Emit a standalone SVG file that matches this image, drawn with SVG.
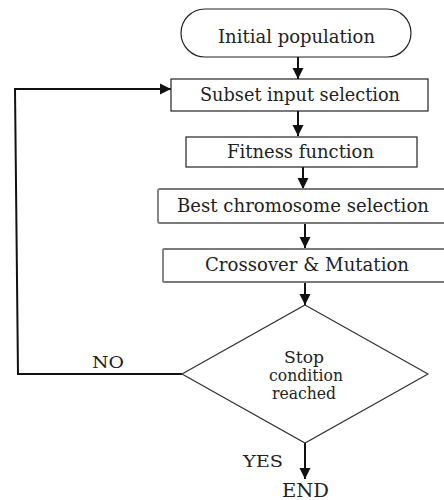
<svg xmlns="http://www.w3.org/2000/svg" width="444" height="500" viewBox="0 0 444 500" font-family="DejaVu Serif">
<style>
.dk{fill:#fff;stroke:#222;stroke-width:1.2}
.gr{fill:#fff;stroke:#7a7a7a;stroke-width:1.8}
.ln{fill:none;stroke:#111;stroke-width:2}
.t{font-family:'DejaVu Serif','Liberation Serif',serif;font-size:18px;fill:#222}
.s{font-size:16px}
</style>
<defs>
<marker id="ah" markerUnits="userSpaceOnUse" markerWidth="12" markerHeight="12" viewBox="0 0 12 12" refX="11" refY="6" orient="auto">
<path d="M0,0.5 L11,6 L0,11.5 z" fill="#111"/>
</marker>
</defs>
<rect width="444" height="500" fill="#fff"/>
<g id="connectors">
<line class="ln" x1="298" y1="57" x2="298" y2="79" marker-end="url(#ah)"/>
<line class="ln" x1="298" y1="111" x2="298" y2="136" marker-end="url(#ah)"/>
<line class="ln" x1="303" y1="167" x2="303" y2="189" marker-end="url(#ah)"/>
<line class="ln" x1="305" y1="223" x2="305" y2="248" marker-end="url(#ah)"/>
<line class="ln" x1="305" y1="282" x2="305" y2="305" marker-end="url(#ah)"/>
<line class="ln" x1="305" y1="443" x2="305" y2="479" marker-end="url(#ah)"/>
<polyline class="ln" points="182,374 18,374 15,89 171,89" marker-end="url(#ah)"/>
<text class="t s" x="92" y="368" textLength="32" lengthAdjust="spacingAndGlyphs">NO</text>
<text class="t s" x="243" y="467" textLength="40" lengthAdjust="spacingAndGlyphs">YES</text>
</g>
<g id="start">
<rect class="dk" x="181" y="9" width="230" height="48" rx="24" ry="24"/>
<text class="t" x="218" y="43" textLength="157" lengthAdjust="spacingAndGlyphs">Initial population</text>
</g>
<g id="subset">
<rect class="dk" x="171" y="79" width="257" height="32"/>
<text class="t" x="200" y="101" textLength="200" lengthAdjust="spacingAndGlyphs">Subset input selection</text>
</g>
<g id="fitness">
<rect class="dk" x="186" y="137" width="231" height="30"/>
<text class="t" x="227" y="158" textLength="147" lengthAdjust="spacingAndGlyphs">Fitness function</text>
</g>
<g id="best">
<rect class="gr" x="158" y="189" width="300" height="34" rx="2"/>
<text class="t" x="177" y="212" textLength="252" lengthAdjust="spacingAndGlyphs">Best chromosome selection</text>
</g>
<g id="crossover">
<rect class="gr" x="163" y="249" width="300" height="33" rx="1"/>
<text class="t" x="205" y="271" textLength="204" lengthAdjust="spacingAndGlyphs">Crossover &amp; Mutation</text>
</g>
<g id="decision">
<polygon points="305,305 428,374 305,443 182,374" fill="#fff" stroke="#333" stroke-width="1.2"/>
<text class="t s"><tspan x="284" y="363" textLength="40" lengthAdjust="spacingAndGlyphs">Stop</tspan><tspan x="269" y="381" textLength="74" lengthAdjust="spacingAndGlyphs">condition</tspan><tspan x="272" y="399" textLength="64" lengthAdjust="spacingAndGlyphs">reached</tspan></text>
</g>
<g id="end">
<text class="t" x="282" y="497" textLength="47" lengthAdjust="spacingAndGlyphs">END</text>
</g>
</svg>
